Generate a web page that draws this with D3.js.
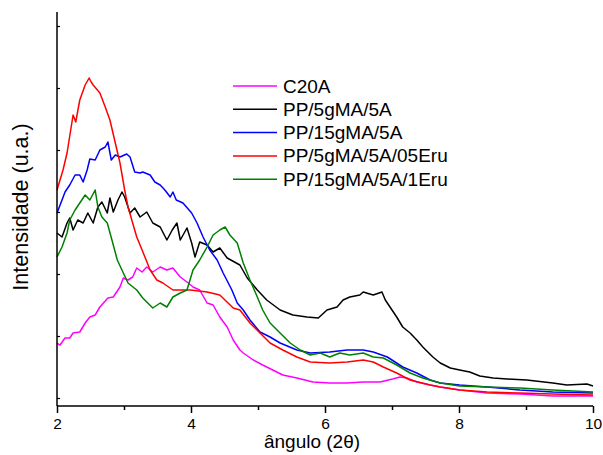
<!DOCTYPE html>
<html><head><meta charset="utf-8">
<script src="https://cdn.jsdelivr.net/npm/d3@7"></script>
<style>body{margin:0;background:#fff}svg{display:block}text{font-family:"Liberation Sans",Arial,sans-serif}</style>
</head><body><svg id="c" width="603" height="455"></svg>
<script>
const seriesNames = ["C20A","PP/5gMA/5A","PP/15gMA/5A","PP/5gMA/5A/05Eru","PP/15gMA/5A/1Eru"];
const seriesColors = ["#ff00ff","#000000","#0000ff","#ff0000","#008000"];
const xTicks = [2,4,6,8,10];
const xMinorTicks = [3,5,7,9];
const yTicks = [0,62,124,186,248,310,372];

const c20aX = [2.00,2.045,2.12,2.19,2.24,2.34,2.42,2.49,2.57,2.64,2.76,2.84,2.94,2.99,3.06,3.13,3.19,3.27,3.34,3.43,3.54,3.64,3.73,3.84,3.94,4.03,4.13,4.24,4.33,4.43,4.54,4.63,4.73,4.78,4.93,5.07,5.22,5.37,5.58,5.82,6.07,6.33,6.57,6.82,7.01,7.12,7.22,7.37,7.57,7.72,8.01,8.42,8.91,9.40,10.00];
const c20aY = [55,53,60,60,65,66,75,81,83,91,100,101,111,120,118,121,130,126,131,126,131,128,130,121,116,111,108,95,93,81,71,58,48,45,38,33,28,23,20,16,15,15,16,16,19,21,20,16,13,11,8,5,4,2,2];

const pp5X = [2.00,2.075,2.15,2.19,2.24,2.31,2.39,2.46,2.54,2.61,2.67,2.75,2.79,2.84,2.91,2.97,3.01,3.09,3.16,3.24,3.34,3.43,3.54,3.64,3.72,3.79,3.84,3.94,4.01,4.06,4.13,4.24,4.33,4.43,4.54,4.73,4.84,4.99,5.13,5.33,5.52,5.73,5.90,6.03,6.18,6.27,6.37,6.52,6.57,6.72,6.85,6.90,6.97,7.07,7.16,7.27,7.37,7.46,7.61,7.72,7.87,8.01,8.16,8.31,8.51,8.72,9.01,9.40,9.61,9.91,10.00];
const pp5Y = [165,161,175,180,168,178,175,185,175,191,196,185,200,186,198,206,201,185,190,181,186,175,171,158,168,175,158,170,155,141,156,153,146,150,140,133,120,108,98,88,83,81,80,88,91,98,101,103,106,103,106,98,91,81,71,65,58,51,41,35,30,28,26,22,20,19,18,15,13,14,12];

const pp15X = [2.00,2.075,2.12,2.19,2.27,2.34,2.39,2.45,2.49,2.57,2.64,2.72,2.76,2.81,2.87,2.94,3.04,3.09,3.16,3.24,3.28,3.39,3.46,3.54,3.61,3.69,3.73,3.78,3.88,4.01,4.09,4.18,4.28,4.39,4.48,4.61,4.69,4.78,4.88,5.03,5.18,5.33,5.58,5.78,6.07,6.33,6.57,6.72,6.93,7.16,7.37,7.57,7.72,8.01,8.42,8.91,9.40,10.00];
const pp15Y = [185,198,206,213,223,223,216,228,239,238,248,251,256,238,243,241,244,241,226,225,226,223,216,213,208,201,206,198,195,185,175,161,148,138,125,108,95,88,78,66,61,55,48,45,46,48,48,46,41,31,25,18,15,13,11,8,6,5];

const eru05X = [2.00,2.09,2.15,2.24,2.28,2.34,2.42,2.48,2.51,2.54,2.64,2.72,2.79,2.87,2.94,3.01,3.06,3.19,3.27,3.39,3.49,3.58,3.73,3.99,4.24,4.43,4.63,4.73,4.88,5.03,5.18,5.37,5.58,5.78,6.07,6.33,6.57,6.72,6.87,7.07,7.27,7.57,7.72,8.01,8.42,8.91,9.40,10.00];
const eru05Y = [208,228,245,283,276,298,313,320,316,313,305,291,278,255,235,208,191,161,148,128,118,115,108,108,106,103,90,88,75,65,55,48,41,36,35,36,38,36,31,25,18,13,11,8,6,5,4,3];

const eru1X = [2.00,2.075,2.15,2.19,2.27,2.34,2.42,2.49,2.57,2.61,2.67,2.75,2.82,2.90,2.99,3.06,3.19,3.28,3.43,3.54,3.64,3.73,3.84,3.94,4.03,4.13,4.24,4.33,4.43,4.51,4.58,4.69,4.78,4.88,4.99,5.07,5.18,5.33,5.48,5.63,5.78,5.93,6.07,6.22,6.37,6.57,6.72,6.87,7.07,7.27,7.46,7.72,8.01,8.42,8.91,9.40,10.00];
const eru1Y = [141,151,165,178,188,195,203,198,208,191,181,175,158,138,125,115,108,100,90,95,91,101,105,108,128,138,151,163,168,171,163,155,135,118,101,88,75,65,55,48,43,45,41,45,43,45,41,40,33,25,20,15,12,11,10,8,6];

const seriesX = [c20aX, pp5X, pp15X, eru05X, eru1X];
const seriesY = [c20aY, pp5Y, pp15Y, eru05Y, eru1Y];

const svg = d3.select("#c");
const L = 57, R = 593, T = 12, B = 406;
const x = d3.scaleLinear().domain([2,10]).range([L,R]);
const y = d3.scaleLinear().domain([-8,386]).range([B,T]);

// lines
const line = d3.line().x(d=>x(d[0])).y(d=>y(d[1]));
seriesNames.forEach((n,i)=>{
  const pts = seriesX[i].map((v,j)=>[v, seriesY[i][j]]);
  svg.append("path").attr("d", line(pts)).attr("fill","none")
    .attr("stroke", seriesColors[i]).attr("stroke-width",1.5).attr("stroke-linejoin","round");
});

// x axis
const xa = svg.append("g").attr("transform",`translate(0,${B})`)
  .call(d3.axisBottom(x).tickValues(xTicks).tickSize(7).tickPadding(5).tickFormat(d3.format("d")));
xa.select(".domain").attr("stroke-width",1.5).attr("d",`M${L},0H${R}`);
xa.selectAll(".tick line").attr("stroke-width",1.5);
xa.selectAll("text").attr("font-size",15.5).attr("font-family","Liberation Sans, Arial, sans-serif");
svg.append("g").attr("transform",`translate(0,${B})`)
  .call(d3.axisBottom(x).tickValues(xMinorTicks).tickSize(4).tickFormat(""))
  .call(g=>g.select(".domain").remove())
  .selectAll(".tick line").attr("stroke-width",1.5);

// y axis
const ya = svg.append("g").attr("transform",`translate(${L},0)`)
  .call(d3.axisLeft(y).tickValues(yTicks).tickSize(-3).tickFormat(""));
ya.select(".domain").attr("stroke-width",1.5).attr("d",`M0,${T}V${B}`);
ya.selectAll(".tick line").attr("stroke-width",1.2);

// labels
svg.append("text").attr("x",312).attr("y",448).attr("text-anchor","middle")
  .attr("font-size",19).text("ângulo (2θ)");
svg.append("text").attr("transform","translate(28,207) rotate(-90)").attr("text-anchor","middle")
  .attr("font-size",21.5).text("Intensidade (u.a.)");

// legend
const legY = [86,109.3,132.6,155.9,179.2];
seriesNames.forEach((n,i)=>{
  svg.append("line").attr("x1",233).attr("x2",277).attr("y1",legY[i]).attr("y2",legY[i])
    .attr("stroke",seriesColors[i]).attr("stroke-width",1.5);
  svg.append("text").attr("x",283).attr("y",legY[i]+6.5).attr("font-size",19).text(n);
});
</script></body></html>
